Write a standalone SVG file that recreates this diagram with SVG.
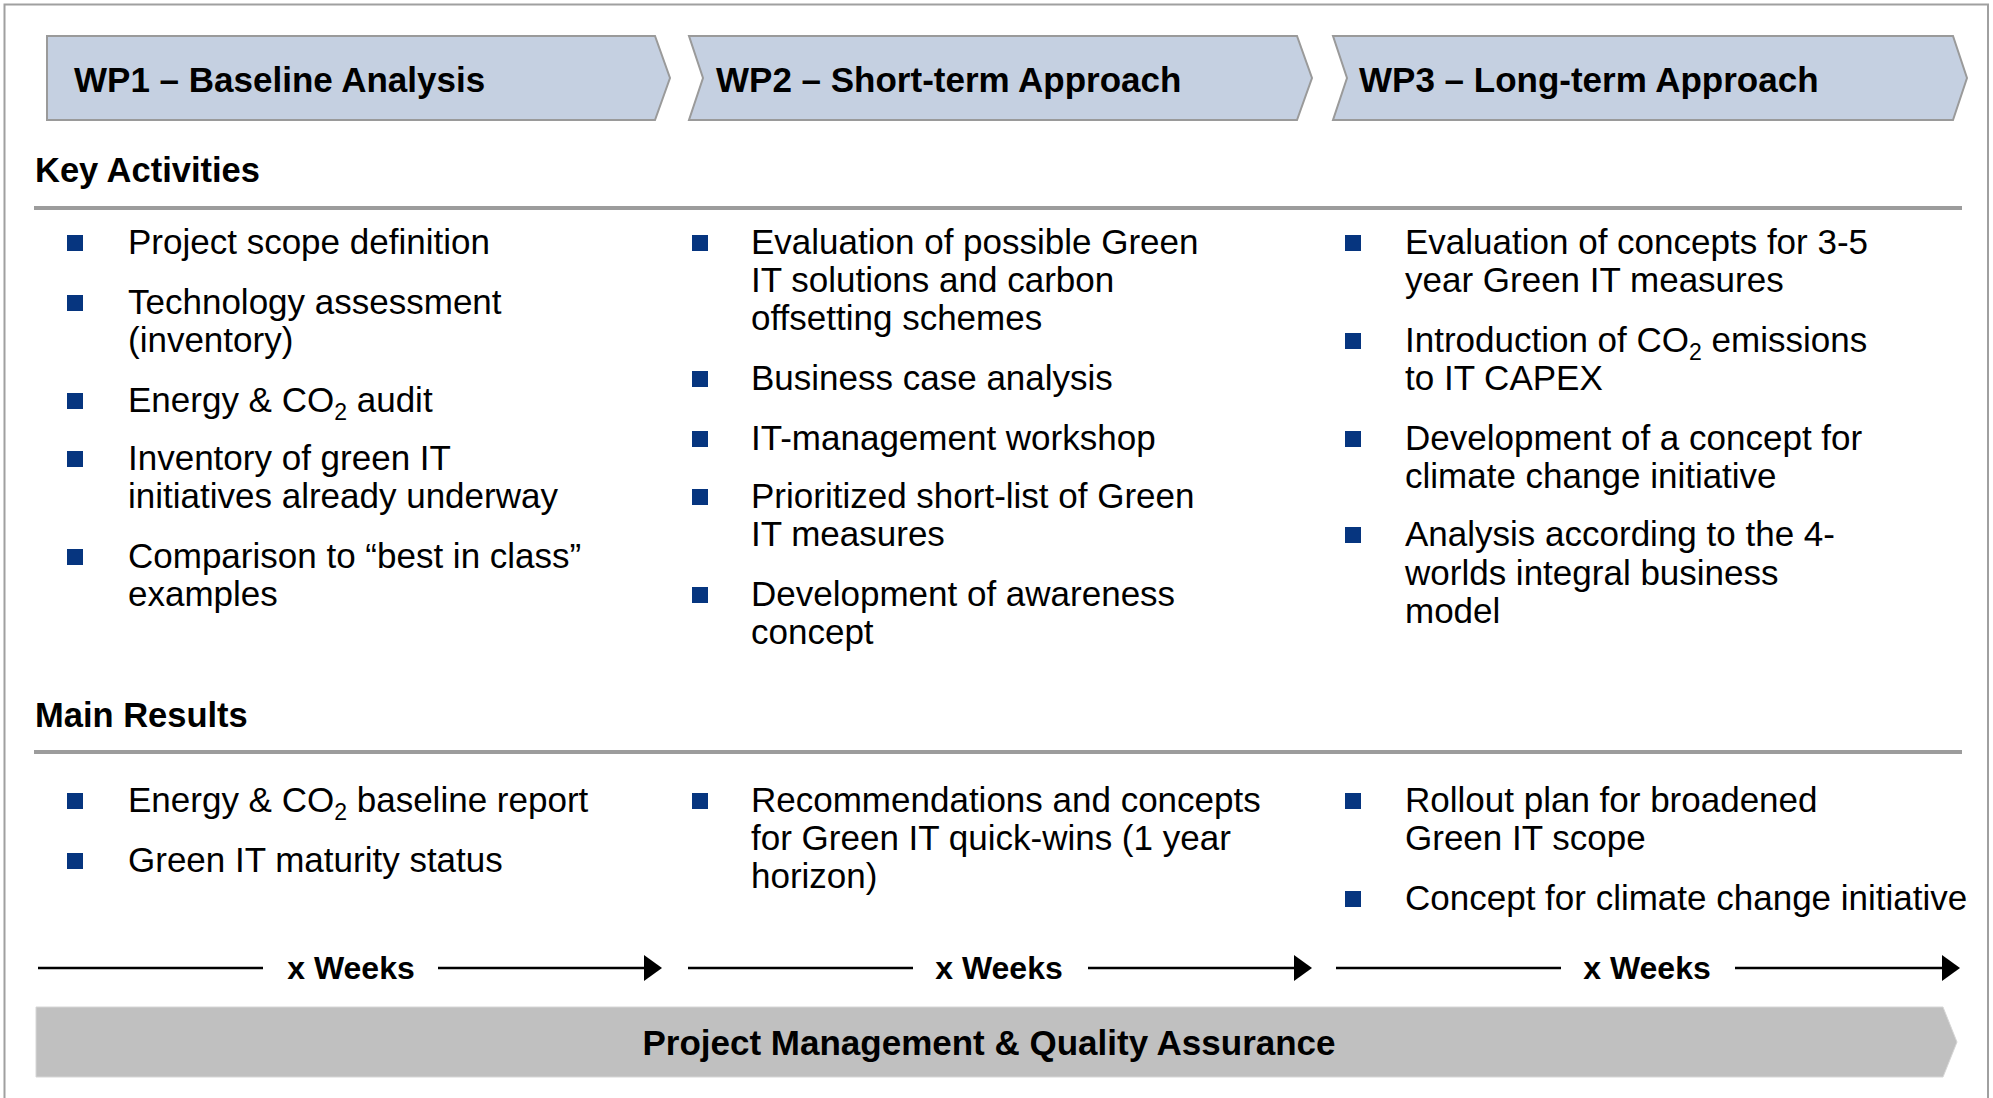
<svg xmlns="http://www.w3.org/2000/svg" width="1993" height="1098" viewBox="0 0 1993 1098">
<style>
.chev{fill:#c5d0e1;stroke:#9a9a9a;stroke-width:2}
.title{font-family:"Liberation Sans",Arial,sans-serif;font-weight:bold;font-size:35px;fill:#000}
.hdr{font-family:"Liberation Sans",Arial,sans-serif;font-weight:bold;font-size:34.5px;fill:#000}
.t{font-family:"Liberation Sans",Arial,sans-serif;font-size:35px;fill:#000}
.sub{font-size:23px}
.wk{font-family:"Liberation Sans",Arial,sans-serif;font-weight:bold;font-size:32px;fill:#000}
.bul{fill:#06357f}
.sep{stroke:#9c9c9c;stroke-width:4}
.ln{stroke:#000;stroke-width:2.5}
</style>
<defs>
<rect id="b" width="16" height="16" class="bul"/>
</defs>
<rect x="4.5" y="4.5" width="1983.5" height="1110" fill="#fff" stroke="#a0a0a0" stroke-width="2"/>

<g id="wp1">
<path class="chev" d="M47,36 L655,36 L670,78 L655,120 L47,120 Z"/>
<text class="title" x="74" y="92">WP1 – Baseline Analysis</text>
</g>
<g id="wp2">
<path class="chev" d="M689,36 L1297,36 L1312,78 L1297,120 L689,120 L703,78 Z"/>
<text class="title" x="716" y="92">WP2 – Short-term Approach</text>
</g>
<g id="wp3">
<path class="chev" d="M1333,36 L1953,36 L1967,78 L1953,120 L1333,120 L1347,78 Z"/>
<text class="title" x="1359" y="92">WP3 – Long-term Approach</text>
</g>

<g id="key-activities">
<text class="hdr" x="35" y="182">Key Activities</text>
<line class="sep" x1="34" y1="208" x2="1962" y2="208"/>
</g>

<g id="wp1-activities">
<use href="#b" x="67" y="235"/>
<text class="t" x="128" y="254">Project scope definition</text>
<use href="#b" x="67" y="295"/>
<text class="t" x="128" y="314">Technology assessment</text>
<text class="t" x="128" y="352">(inventory)</text>
<use href="#b" x="67" y="393"/>
<text class="t" x="128" y="412">Energy &amp; CO<tspan class="sub" dy="8">2</tspan><tspan dy="-8"> audit</tspan></text>
<use href="#b" x="67" y="451"/>
<text class="t" x="128" y="470">Inventory of green IT</text>
<text class="t" x="128" y="508">initiatives already underway</text>
<use href="#b" x="67" y="549"/>
<text class="t" x="128" y="568">Comparison to “best in class”</text>
<text class="t" x="128" y="606">examples</text>
</g>

<g id="wp2-activities">
<use href="#b" x="692" y="235"/>
<text class="t" x="751" y="254">Evaluation of possible Green</text>
<text class="t" x="751" y="292">IT solutions and carbon</text>
<text class="t" x="751" y="330">offsetting schemes</text>
<use href="#b" x="692" y="371"/>
<text class="t" x="751" y="390">Business case analysis</text>
<use href="#b" x="692" y="431"/>
<text class="t" x="751" y="450">IT-management workshop</text>
<use href="#b" x="692" y="489"/>
<text class="t" x="751" y="508">Prioritized short-list of Green</text>
<text class="t" x="751" y="546">IT measures</text>
<use href="#b" x="692" y="587"/>
<text class="t" x="751" y="606">Development of awareness</text>
<text class="t" x="751" y="644">concept</text>
</g>

<g id="wp3-activities">
<use href="#b" x="1345" y="235"/>
<text class="t" x="1405" y="254">Evaluation of concepts for 3-5</text>
<text class="t" x="1405" y="292">year Green IT measures</text>
<use href="#b" x="1345" y="333"/>
<text class="t" x="1405" y="352">Introduction of CO<tspan class="sub" dy="8">2</tspan><tspan dy="-8"> emissions</tspan></text>
<text class="t" x="1405" y="390">to IT CAPEX</text>
<use href="#b" x="1345" y="431"/>
<text class="t" x="1405" y="450">Development of a concept for</text>
<text class="t" x="1405" y="488">climate change initiative</text>
<use href="#b" x="1345" y="527"/>
<text class="t" x="1405" y="546">Analysis according to the 4-</text>
<text class="t" x="1405" y="585">worlds integral business</text>
<text class="t" x="1405" y="623">model</text>
</g>

<g id="main-results">
<text class="hdr" x="35" y="727">Main Results</text>
<line class="sep" x1="34" y1="752" x2="1962" y2="752"/>
</g>

<g id="wp1-results">
<use href="#b" x="67" y="793"/>
<text class="t" x="128" y="812">Energy &amp; CO<tspan class="sub" dy="8">2</tspan><tspan dy="-8"> baseline report</tspan></text>
<use href="#b" x="67" y="853"/>
<text class="t" x="128" y="872">Green IT maturity status</text>
</g>

<g id="wp2-results">
<use href="#b" x="692" y="793"/>
<text class="t" x="751" y="812">Recommendations and concepts</text>
<text class="t" x="751" y="850">for Green IT quick-wins (1 year</text>
<text class="t" x="751" y="888">horizon)</text>
</g>

<g id="wp3-results">
<use href="#b" x="1345" y="793"/>
<text class="t" x="1405" y="812">Rollout plan for broadened</text>
<text class="t" x="1405" y="850">Green IT scope</text>
<use href="#b" x="1345" y="891"/>
<text class="t" x="1405" y="910">Concept for climate change initiative</text>
</g>

<g id="connectors">
<line class="ln" x1="38" y1="968" x2="263" y2="968"/>
<line class="ln" x1="438" y1="968" x2="648" y2="968"/>
<polygon points="662,968 644,955 644,981" fill="#000"/>
<line class="ln" x1="688" y1="968" x2="913" y2="968"/>
<line class="ln" x1="1088" y1="968" x2="1298" y2="968"/>
<polygon points="1312,968 1294,955 1294,981" fill="#000"/>
<line class="ln" x1="1336" y1="968" x2="1561" y2="968"/>
<line class="ln" x1="1735" y1="968" x2="1946" y2="968"/>
<polygon points="1960,968 1942,955 1942,981" fill="#000"/>
<text class="wk" x="351" y="979" text-anchor="middle">x Weeks</text>
<text class="wk" x="999" y="979" text-anchor="middle">x Weeks</text>
<text class="wk" x="1647" y="979" text-anchor="middle">x Weeks</text>
</g>

<g id="pm-qa">
<path d="M36,1007 L1943,1007 L1957,1042 L1943,1077 L36,1077 Z" fill="#c0c0c0" stroke="#d6d6d6" stroke-width="1"/>
<text class="title" x="989" y="1055" text-anchor="middle">Project Management &amp; Quality Assurance</text>
</g>
</svg>
